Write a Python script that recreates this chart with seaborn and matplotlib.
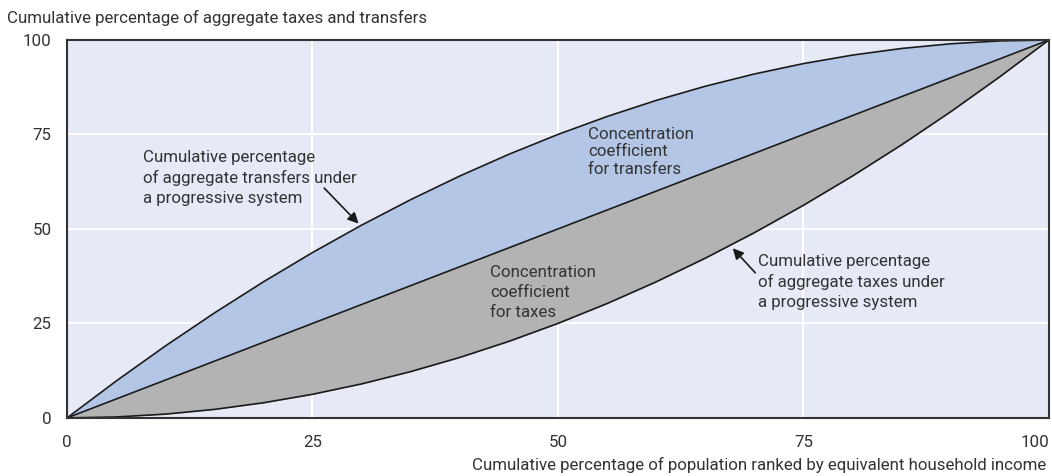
import numpy as np
import pandas as pd
import matplotlib
matplotlib.use("Agg")
import matplotlib.pyplot as plt
import seaborn as sns

# population share (x) and cumulative shares of taxes / transfers (y)
pop_share = [0, 5, 10, 15, 20, 25, 30, 35, 40, 45, 50,
             55, 60, 65, 70, 75, 80, 85, 90, 95, 100]
transfers = [0, 9.75, 19, 27.75, 36, 43.75, 51, 57.75, 64, 69.75, 75,
             79.75, 84, 87.75, 91, 93.75, 96, 97.75, 99, 99.75, 100]
equality = [0, 5, 10, 15, 20, 25, 30, 35, 40, 45, 50,
            55, 60, 65, 70, 75, 80, 85, 90, 95, 100]
taxes = [0, 0.25, 1, 2.25, 4, 6.25, 9, 12.25, 16, 20.25, 25,
         30.25, 36, 42.25, 49, 56.25, 64, 72.25, 81, 90.25, 100]
ticks = [0, 25, 50, 75, 100]

TXT = "#333333"
FS = 12.2
sns.set_style("darkgrid", {"axes.facecolor": "#e6eaf6", "grid.color": "white",
                           "axes.edgecolor": "#333333"})
plt.rcParams["font.family"] = ["Roboto", "DejaVu Sans"]
plt.rcParams["font.size"] = FS

df = pd.DataFrame({"x": pop_share, "transfers": transfers,
                   "equality": equality, "taxes": taxes})

fig = plt.figure(figsize=(10.52, 4.76), dpi=100)
ax = fig.add_axes([0.0637, 0.122, 0.9333, 0.794])

ax.fill_between(df["x"], df["equality"], df["transfers"], color="#b3c6e6", lw=0, zorder=2)
ax.fill_between(df["x"], df["taxes"], df["equality"], color="#b3b3b3", lw=0, zorder=2)
for col in ["transfers", "equality", "taxes"]:
    sns.lineplot(data=df, x="x", y=col, ax=ax, color="#1a1a1a", lw=1.2, zorder=3)

ax.set_xlim(0, 100)
ax.set_ylim(0, 100)
ax.set_xticks(ticks)
ax.set_yticks(ticks)
ax.set_xticklabels([str(t) for t in ticks])
ax.set_yticklabels([str(t) for t in ticks])
ax.get_xticklabels()[-1].set_horizontalalignment("right")
ax.tick_params(direction="in", length=9, width=1.2, colors="#333333",
               labelcolor=TXT, labelsize=FS)
ax.tick_params(axis="x", pad=12)
ax.tick_params(axis="y", pad=11)
ax.grid(True, color="white", lw=1.5, zorder=1)
ax.set_axisbelow(True)
for sp in ax.spines.values():
    sp.set_visible(True)
    sp.set_linewidth(1.5)
    sp.set_color("#333333")
    sp.set_zorder(5)
ax.set_xlabel("")
ax.set_ylabel("")

fig.text(0.007, 0.962, "Cumulative percentage of aggregate taxes and transfers",
         ha="left", va="center", color=TXT, fontsize=FS)
fig.text(0.995, 0.023, "Cumulative percentage of population ranked by equivalent household income",
         ha="right", va="center", color=TXT, fontsize=FS)

ax.text(7.7, 63.5, "Cumulative percentage\nof aggregate transfers under\na progressive system",
        ha="left", va="center", color=TXT, fontsize=FS, linespacing=1.42, zorder=4)
ax.annotate("", xy=(29.7, 51.4), xytext=(26.2, 60.8),
            arrowprops=dict(arrowstyle="-|>", color="#1a1a1a", lw=1.2,
                            mutation_scale=16, shrinkA=0, shrinkB=0), zorder=4)
ax.text(53.1, 70.4, "Concentration\ncoefficient\nfor transfers",
        ha="left", va="center", color=TXT, fontsize=FS, linespacing=1.2, zorder=4)
ax.text(43.1, 33.3, "Concentration\ncoefficient\nfor taxes",
        ha="left", va="center", color=TXT, fontsize=FS, linespacing=1.42, zorder=4)
ax.text(70.4, 36.0, "Cumulative percentage\nof aggregate taxes under\na progressive system",
        ha="left", va="center", color=TXT, fontsize=FS, linespacing=1.42, zorder=4)
ax.annotate("", xy=(67.8, 44.9), xytext=(70.1, 38.4),
            arrowprops=dict(arrowstyle="-|>", color="#1a1a1a", lw=1.2,
                            mutation_scale=16, shrinkA=0, shrinkB=0), zorder=4)

fig.savefig("out.png", dpi=100)
